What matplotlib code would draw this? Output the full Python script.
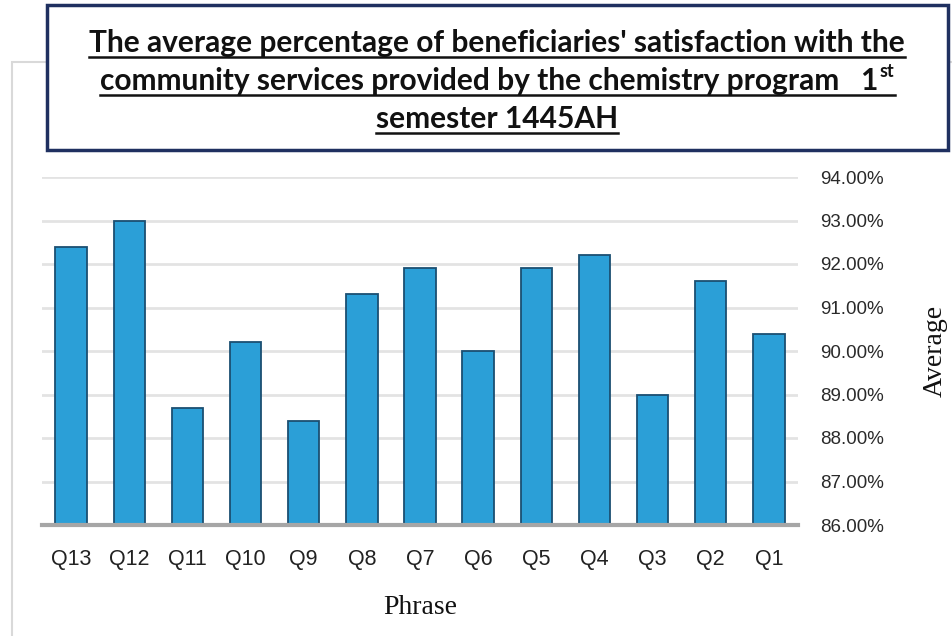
import matplotlib
matplotlib.use("Agg")
import matplotlib.pyplot as plt
from matplotlib.patches import Rectangle
from matplotlib.lines import Line2D
from matplotlib.ticker import FuncFormatter

categories = ["Q13", "Q12", "Q11", "Q10", "Q9", "Q8", "Q7", "Q6", "Q5", "Q4", "Q3", "Q2", "Q1"]
values = [92.4, 93.0, 88.7, 90.2, 88.4, 91.3, 91.9, 90.0, 91.9, 92.2, 89.0, 91.6, 90.4]
yticks = [86, 87, 88, 89, 90, 91, 92, 93, 94]
title_lines = ["The average percentage of beneficiaries' satisfaction with the",
               "community services provided by the chemistry program   1",
               "semester 1445AH"]
title_sup = "st"

W, H = 953, 636
fig = plt.figure(figsize=(W / 100, H / 100), dpi=100)
fig.patch.set_facecolor("white")

def fx(px):
    return px / W

def fy(py):
    return 1 - py / H

# light outer chart frame
fig.add_artist(Rectangle((fx(12), fy(700)), fx(1000), fy(62) - fy(700), transform=fig.transFigure,
                         fill=False, edgecolor="#D9D9D9", linewidth=1.5, zorder=0))

ax = fig.add_axes([fx(42), fy(525), fx(798) - fx(42), fy(177) - fy(525)])
x = list(range(len(categories)))
ax.bar(x, [v - 86 for v in values], bottom=86, width=0.54, color="#2B9FD7",
       edgecolor="#1B4F72", linewidth=1.3, zorder=3)
ax.set_xlim(-0.5, 12.5)
ax.set_ylim(86, 94)
ax.set_yticks(yticks)
ax.yaxis.set_major_formatter(FuncFormatter(lambda v, p: f"{v:.2f}%"))
ax.yaxis.tick_right()
ax.yaxis.set_label_position("right")
ax.set_xticks(x)
ax.set_xticklabels(categories, fontsize=15.5, color="#222222", family=["Liberation Sans Narrow", "Liberation Sans"])
for lab in ax.get_yticklabels():
    lab.set_family(["Liberation Sans", "DejaVu Sans"])
    lab.set_fontsize(13.5)
    lab.set_color("#2A2A2A")
ax.tick_params(axis="both", length=0)
ax.tick_params(axis="y", pad=16)
ax.tick_params(axis="x", pad=17)
ax.grid(axis="y", color="#E3E3E3", linewidth=2, zorder=0)
for s in ["top", "left", "right"]:
    ax.spines[s].set_visible(False)
ax.spines["bottom"].set_color("#A6A6A6")
ax.spines["bottom"].set_linewidth(3)
ax.spines["bottom"].set_zorder(4)
ax.set_xlabel("Phrase", family="Liberation Serif", fontsize=20, labelpad=18, color="#111111")
ax.set_ylabel("Average", family="Liberation Serif", fontsize=20, labelpad=28, color="#111111", rotation=90)

# title box
fig.add_artist(Rectangle((fx(47), fy(150)), fx(948) - fx(47), fy(5) - fy(150), transform=fig.transFigure,
                         facecolor="white", edgecolor="#1F3060", linewidth=2.5, zorder=5))

fig.canvas.draw()
renderer = fig.canvas.get_renderer()
ys = [43, 81, 119]
tfont = dict(family=["Lato", "DejaVu Sans"], fontweight="bold", fontsize=21.5, color="#111111")
for i, (line, yc) in enumerate(zip(title_lines, ys)):
    t = fig.text(fx(497), fy(yc), line, ha="center", va="center", zorder=6, **tfont)
    bb = t.get_window_extent(renderer)
    x0, x1 = bb.x0, bb.x1
    if i == 1:
        st = fig.text(0, 0, title_sup, ha="left", va="baseline", zorder=6,
                      family=["Lato", "DejaVu Sans"], fontweight="bold", fontsize=13, color="#111111")
        sw = st.get_window_extent(renderer).width
        shift = sw / 2
        t.set_position((fx(497) - shift / W, fy(yc)))
        fig.canvas.draw()
        bb = t.get_window_extent(renderer)
        x0, x1 = bb.x0, bb.x1
        st.set_position((x1 / W + fx(1), fy(yc - 4)))
        x1 = x1 + sw + 1
    fig.add_artist(Line2D([x0 / W, x1 / W], [fy(yc + 14), fy(yc + 14)], transform=fig.transFigure,
                          color="#111111", linewidth=1.8, zorder=6))

fig.savefig("out.png", dpi=100)
